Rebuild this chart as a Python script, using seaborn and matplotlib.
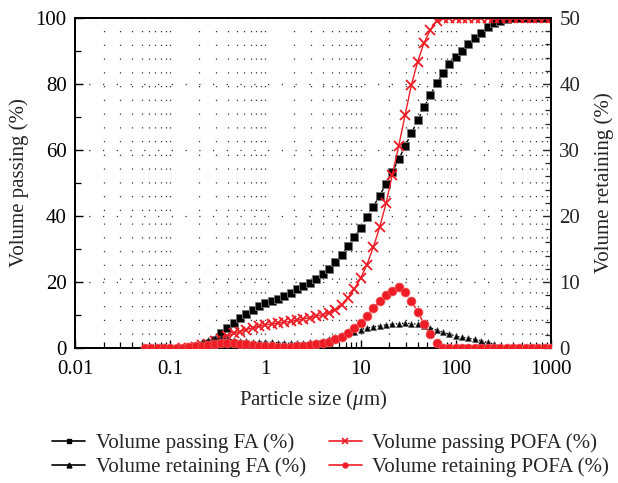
import numpy as np
import pandas as pd
import matplotlib
matplotlib.use("Agg")
import matplotlib.pyplot as plt
from matplotlib.lines import Line2D
from matplotlib.ticker import FixedLocator, FixedFormatter, LogLocator, MultipleLocator, NullFormatter
import seaborn as sns

nan = np.nan

# Particle size classes (um)
sizes = [0.0541, 0.0631, 0.0736, 0.0858, 0.1, 0.1166, 0.1359, 0.1585, 0.1848, 0.2154,
         0.2512, 0.2929, 0.3415, 0.3981, 0.4642, 0.5412, 0.6310, 0.7356, 0.8577, 1.0,
         1.166, 1.359, 1.585, 1.848, 2.154, 2.512, 2.929, 3.415, 3.981, 4.642,
         5.412, 6.310, 7.356, 8.577, 10.0, 11.66, 13.59, 15.85, 18.48, 21.54,
         25.12, 29.29, 34.15, 39.81, 46.42, 54.12, 63.10, 73.56, 85.77, 100.0,
         116.6, 135.9, 158.5, 184.8, 215.4, 251.2, 292.9, 341.5, 398.1, 464.2,
         541.2, 631.0, 735.6, 857.7, 1000.0]

fa_passing = [nan, nan, nan, nan, nan, nan, nan, nan, nan,
              0.4, 1.2, 2.5, 4.5, 6.0, 7.5, 9.0, 10.4, 11.6, 12.6, 13.5,
              14.2, 15.0, 15.9, 16.8, 17.8, 18.8, 19.8, 21.0, 22.4, 24.0,
              26.0, 28.3, 30.8, 33.5, 36.5, 39.7, 42.8, 46.2, 49.7, 53.4,
              57.2, 61.1, 65.1, 69.0, 72.9, 76.7, 80.2, 83.2, 86.1, 88.1,
              90.1, 92.0, 93.8, 95.5, 97.2, 98.4, 99.2, 99.7,
              100, 100, 100, 100, 100, 100, 100]

fa_retaining = [nan, nan, nan, nan, nan, nan,
                0.1, 0.2, 0.45, 0.9, 1.25, 1.45, 1.45, 1.35, 1.2, 1.1, 1.0, 0.95, 0.9, 0.9,
                0.85, 0.8, 0.75, 0.7, 0.7, 0.75, 0.85, 0.95, 1.1, 1.35,
                1.6, 1.9, 2.2, 2.5, 2.8, 3.0, 3.2, 3.35, 3.5, 3.6,
                3.7, 3.75, 3.7, 3.6, 3.4, 3.05, 2.7, 2.4, 2.1, 1.8,
                1.6, 1.5, 1.3, 1.1, 0.85, 0.6, 0.2, 0.0,
                nan, nan, nan, nan, nan, nan, nan]

pofa_passing = [nan, nan, nan, nan, nan, nan,
                0.05, 0.15, 0.4, 0.8, 1.3, 2.0, 2.8, 3.6, 4.4, 5.0, 5.6, 6.1, 6.6, 7.0,
                7.3, 7.5, 7.8, 8.1, 8.4, 8.8, 9.2, 9.6, 10.1, 10.7,
                11.6, 13.0, 15.2, 17.8, 21.1, 25.3, 30.5, 36.6, 43.8, 52.5,
                61.2, 70.5, 79.7, 86.8, 92.5, 96.4, 99.2, 99.9,
                100, 100, 100, 100, 100, 100, 100, 100, 100, 100,
                100, 100, 100, 100, 100, 100, 100]

pofa_retaining = [0, 0, 0, 0, 0, 0,
                  0.05, 0.1, 0.25, 0.35, 0.5, 0.6, 0.7, 0.7, 0.7, 0.65, 0.55, 0.45, 0.35, 0.3,
                  0.25, 0.2, 0.2, 0.2, 0.25, 0.3, 0.4, 0.55, 0.7, 0.95,
                  1.35, 1.7, 2.3, 3.0, 3.8, 4.9, 6.0, 7.1, 8.0, 8.7,
                  9.3, 8.5, 7.1, 5.5, 3.6, 2.1, 0.8,
                  0, 0, 0, 0, 0, 0, 0, 0, 0, 0, 0, 0, 0, 0, 0, 0, 0, 0]

x_tick_values = [0.01, 0.1, 1, 10, 100, 1000]
x_tick_labels = ["0.01", "0.1", "1", "10", "100", "1000"]
series_labels = ["Volume passing FA (%)", "Volume retaining FA (%)",
                 "Volume passing POFA (%)", "Volume retaining POFA (%)"]

sns.set_style("ticks")
plt.rcParams["font.family"] = ["Liberation Serif", "DejaVu Serif"]
plt.rcParams["mathtext.fontset"] = "custom"
plt.rcParams["mathtext.rm"] = "Liberation Serif"
plt.rcParams["mathtext.it"] = "Liberation Serif:italic"

FS = 15
RED = "#ee1c25"
fig = plt.figure(figsize=(6.18, 4.83), dpi=100)
ax = fig.add_axes([75 / 618, 1 - 348 / 483, 476 / 618, 330 / 483])
ax2 = ax.twinx()
ax.set_xscale("log")
ax.set_xlim(0.01, 1000)
ax.set_ylim(0, 100)
ax2.set_ylim(0, 50)

def frame(vals):
    d = pd.DataFrame({"size": sizes, "value": vals})
    return d.dropna()

# grid
grid_kw = dict(color="#333333", linestyle=(0, (1, 10)), linewidth=0.9)
ax.xaxis.set_major_locator(FixedLocator(x_tick_values))
ax.xaxis.set_major_formatter(FixedFormatter(x_tick_labels))
ax.xaxis.set_minor_locator(LogLocator(base=10, subs=range(2, 10), numticks=50))
ax.xaxis.set_minor_formatter(NullFormatter())
ax.grid(True, which="both", axis="x", **grid_kw)
ax.grid(True, which="major", axis="y", **grid_kw)
ax.set_axisbelow(True)

# left axis series
sns.lineplot(data=frame(fa_passing), x="size", y="value", ax=ax, color="black",
             linestyle=(0, (3, 2)), linewidth=1.0, marker="s", markersize=5.5,
             markeredgecolor="#777777", markeredgewidth=0.6, estimator=None, sort=False,
             zorder=3)
sns.lineplot(data=frame(pofa_passing), x="size", y="value", ax=ax, color=RED,
             linestyle="-", linewidth=1.0, marker="x", markersize=6.5,
             markeredgecolor=RED, markeredgewidth=1.3, estimator=None, sort=False,
             zorder=4)

# right axis series
sns.lineplot(data=frame(fa_retaining), x="size", y="value", ax=ax2, color="black",
             linestyle=(0, (1, 1.2)), linewidth=1.0, marker="^", markersize=4.4,
             markeredgecolor="#555555", markeredgewidth=0.4, estimator=None, sort=False,
             zorder=3)
sns.lineplot(data=frame(pofa_retaining), x="size", y="value", ax=ax2, color=RED,
             linestyle=(0, (3, 2)), linewidth=1.0, marker="o", markersize=6.4,
             markeredgecolor="#f25a5a", markeredgewidth=0.5, estimator=None, sort=False,
             zorder=4)

ax.set_xlabel(r"Particle size ($\mu$m)", fontsize=FS, labelpad=6)
ax.set_ylabel("Volume passing (%)", fontsize=FS, labelpad=5)
ax2.set_ylabel("Volume retaining (%)", fontsize=FS, labelpad=10)

ax.yaxis.set_major_locator(MultipleLocator(20))
ax.yaxis.set_minor_locator(MultipleLocator(10))
ax2.yaxis.set_major_locator(MultipleLocator(10))
ax2.yaxis.set_minor_locator(MultipleLocator(2))

ax.tick_params(which="both", direction="in", top=False, right=False, labelsize=FS, colors="black")
ax.tick_params(which="major", length=6, width=1.0)
ax.tick_params(which="minor", length=4, width=0.9)
ax.tick_params(axis="x", which="both", pad=9)
ax.tick_params(axis="y", which="both", pad=6)
ax2.tick_params(which="both", direction="in", labelsize=FS, pad=6)
ax2.tick_params(which="major", length=6, width=1.0)
ax2.tick_params(which="minor", length=4, width=0.9)

for a in (ax, ax2):
    for s in a.spines.values():
        s.set_visible(True)
        s.set_linewidth(1.3)
        s.set_color("black")
ax.patch.set_visible(False)

handles = [
    Line2D([], [], color="black", lw=1.2, marker="s", markersize=3.5),
    Line2D([], [], color="black", lw=1.2, marker="^", markersize=3.5),
    Line2D([], [], color=RED, lw=1.2, marker="x", markersize=5, markeredgewidth=1.2),
    Line2D([], [], color=RED, lw=1.2, marker="o", markersize=3.5),
]
fig.legend(handles, series_labels, ncol=2, loc="center", bbox_to_anchor=(0.535, 0.057),
           frameon=False, fontsize=FS, handlelength=1.6, handletextpad=0.5,
           columnspacing=1.1, labelspacing=0.2, borderaxespad=0, borderpad=0.1)

fig.savefig("out.png", dpi=100)
